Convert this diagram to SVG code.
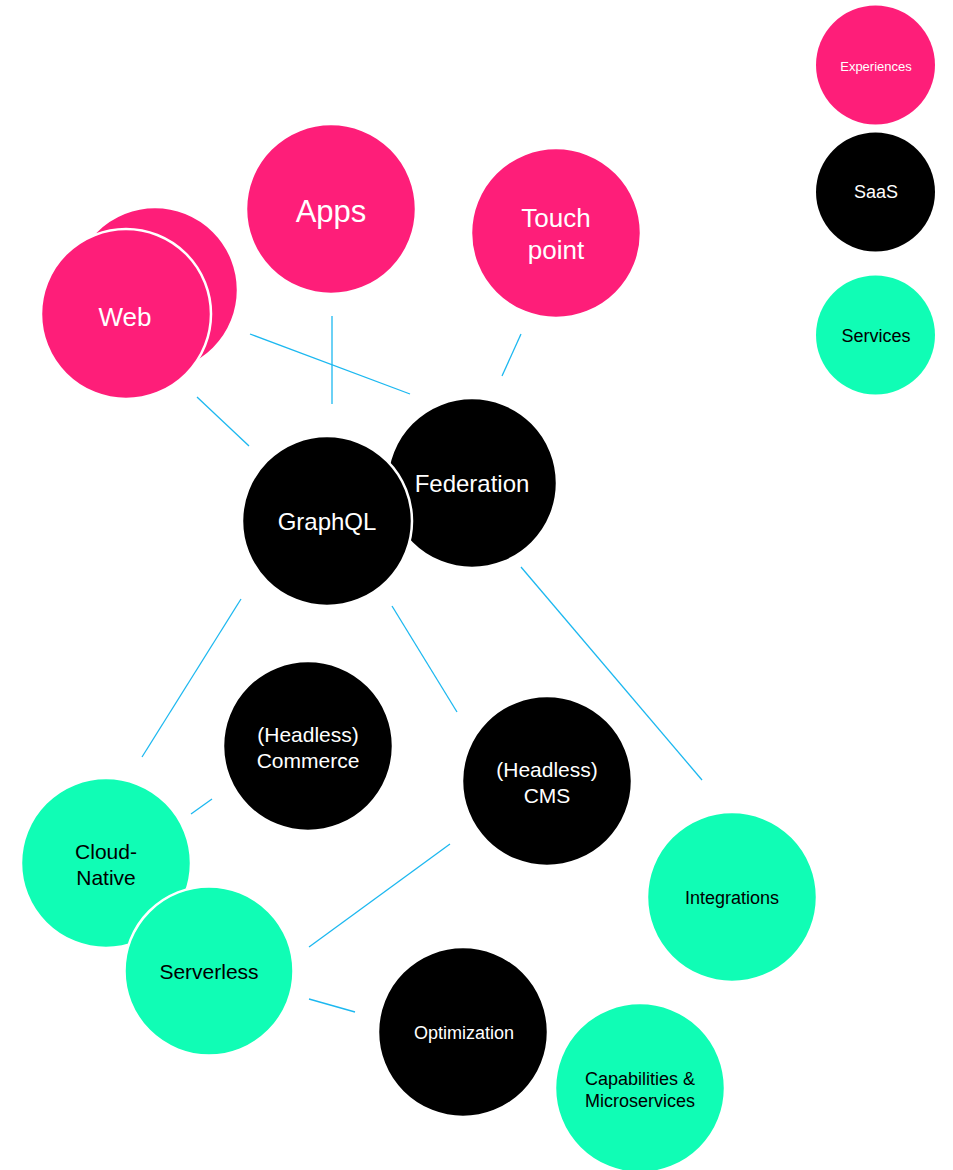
<svg xmlns="http://www.w3.org/2000/svg" width="953" height="1170" viewBox="0 0 953 1170">
<style>
.n{stroke:#fff;stroke-width:2.5}
.p{fill:#fe1e79}
.k{fill:#000}
.g{fill:#10fdb5}
text{font-family:"Liberation Sans",Arial,sans-serif;text-anchor:middle}
.w{fill:#fff}
.b{fill:#000}
#edges line{stroke:#1cb8f0;stroke-width:1.3;fill:none}
</style>
<rect width="953" height="1170" fill="#fff"/>
<g id="edges">
<line x1="250" y1="334" x2="410" y2="394"/>
<line x1="332" y1="316" x2="332" y2="404"/>
<line x1="521" y1="334" x2="502" y2="376"/>
<line x1="197" y1="397" x2="249" y2="446"/>
<line x1="241" y1="599" x2="142" y2="757"/>
<line x1="392" y1="606" x2="457" y2="712"/>
<line x1="521" y1="567" x2="702" y2="780"/>
<line x1="212" y1="799" x2="191" y2="814"/>
<line x1="450" y1="844" x2="309" y2="947"/>
<line x1="309" y1="999" x2="355" y2="1012"/>
</g>
<g id="web-back"><circle class="n p" cx="155" cy="290" r="83"/></g>
<g id="web"><circle class="n p" cx="126" cy="314" r="85"/><text class="w" x="125" y="326" font-size="26">Web</text></g>
<g id="apps"><circle class="n p" cx="331" cy="209" r="85"/><text class="w" x="331" y="222" font-size="31">Apps</text></g>
<g id="touchpoint"><circle class="n p" cx="556" cy="233" r="85"/><text class="w" x="556" y="227" font-size="26">Touch</text><text class="w" x="556" y="259" font-size="26">point</text></g>
<g id="federation"><circle class="n k" cx="472" cy="483" r="85"/><text class="w" x="472" y="492" font-size="24">Federation</text></g>
<g id="graphql"><circle class="n k" cx="327" cy="521" r="85"/><text class="w" x="327" y="530" font-size="24">GraphQL</text></g>
<g id="commerce"><circle class="n k" cx="308" cy="746" r="85"/><text class="w" x="308" y="742" font-size="21">(Headless)</text><text class="w" x="308" y="768" font-size="21">Commerce</text></g>
<g id="cms"><circle class="n k" cx="547" cy="781" r="85"/><text class="w" x="547" y="777" font-size="21">(Headless)</text><text class="w" x="547" y="803" font-size="21">CMS</text></g>
<g id="cloudnative"><circle class="n g" cx="106" cy="863" r="85"/><text class="b" x="106" y="859" font-size="21">Cloud-</text><text class="b" x="106" y="885" font-size="21">Native</text></g>
<g id="serverless"><circle class="n g" cx="209" cy="971" r="84.5"/><text class="b" x="209" y="979" font-size="21">Serverless</text></g>
<g id="integrations"><circle class="n g" cx="732" cy="897" r="85"/><text class="b" x="732" y="904" font-size="18">Integrations</text></g>
<g id="optimization"><circle class="n k" cx="463" cy="1032" r="85"/><text class="w" x="464" y="1039" font-size="18">Optimization</text></g>
<g id="capabilities"><circle class="n g" cx="640" cy="1088" r="85"/><text class="b" x="640" y="1085" font-size="18">Capabilities &amp;</text><text class="b" x="640" y="1107" font-size="18">Microservices</text></g>
<g id="legend-experiences"><circle class="p" cx="875.5" cy="65" r="59.5"/><text class="w" x="876" y="71" font-size="13">Experiences</text></g>
<g id="legend-saas"><circle class="k" cx="875.5" cy="192" r="59.5"/><text class="w" x="876" y="198" font-size="18">SaaS</text></g>
<g id="legend-services"><circle class="g" cx="875.5" cy="335" r="59.5"/><text class="b" x="876" y="342" font-size="18">Services</text></g>
</svg>
